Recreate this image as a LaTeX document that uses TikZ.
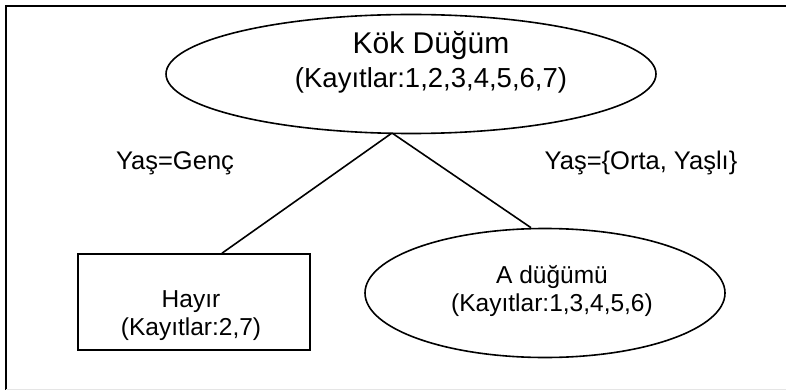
\documentclass[tikz,border=0pt]{standalone}
\usepackage{fontspec}
\setmainfont{Liberation Sans}
\usetikzlibrary{shapes.geometric}
\begin{document}
\begin{tikzpicture}[x=1pt,y=-1pt,
  shape line/.style={line width=1.6pt,black},
  oval/.style={ellipse,draw,shape line,inner sep=0pt},
  leafbox/.style={rectangle,draw,shape line,inner sep=0pt},
  caption/.style={align=center,inner sep=0pt},
  smalltext/.style={font=\fontsize{24.5}{28}\selectfont},
  branchtext/.style={font=\fontsize{25.5}{29}\selectfont},
  edge/.style={line width=1.6pt,black}]
\useasboundingbox (0,0) rectangle (786,390);

% outer frame
\draw[line width=2.2pt] (786,6) -- (6,6) -- (6,390);
\draw[black!10,line width=1pt] (6,389) -- (786,389);

% root
\node[oval,minimum width=490,minimum height=119] (root) at (411,74) {};
\node[caption,font=\fontsize{27.5}{34}\selectfont] (roottext) at (431,62)
  {{\fontsize{30}{34}\selectfont Kök Düğüm}\\(Kayıtlar:1,2,3,4,5,6,7)};
\coordinate (split) at (392,133);

% branch labels
\node[caption,branchtext] (lblleft) at (175,163) {Yaş=Genç};
\node[caption,branchtext] (lblright) at (641,163) {Yaş=\{Orta, Yaşlı\}};

% left leaf
\node[leafbox,minimum width=232,minimum height=96] (leaf) at (194,302) {};
\node[caption,smalltext] (leaftext) at (191,316) {Hayır\\(Kayıtlar:2,7)};

% right child
\node[oval,minimum width=360,minimum height=129] (child) at (545,293) {};
\node[caption,smalltext] (childtext) at (552,291) {A düğümü\\(Kayıtlar:1,3,4,5,6)};

% connectors
\draw[edge] (split) -- (leaf.north -| 222,0);
\draw[edge] (split) -- (child.north -| 531,0);
\end{tikzpicture}
\end{document}
